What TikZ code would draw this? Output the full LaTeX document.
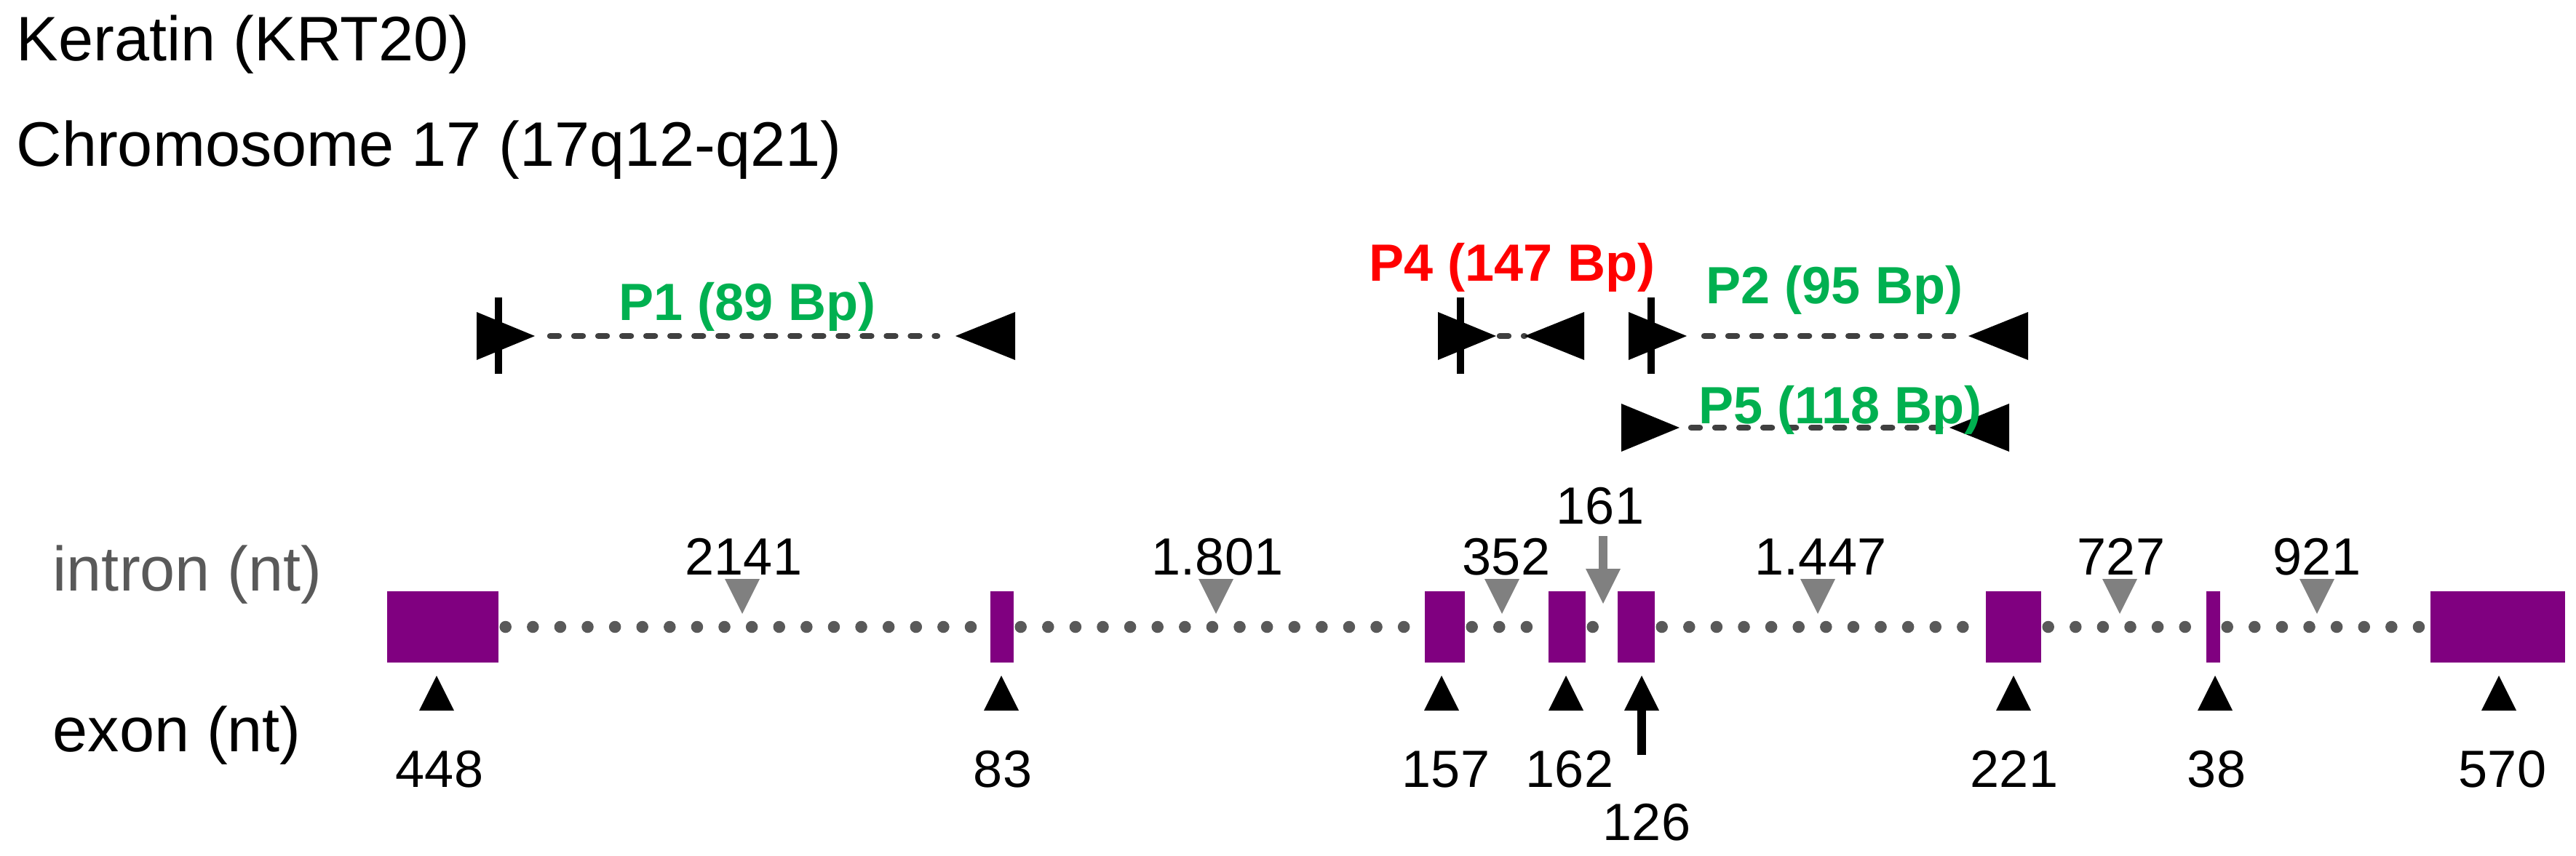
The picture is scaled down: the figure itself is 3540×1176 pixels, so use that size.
\documentclass[tikz,border=0pt]{standalone}
\usepackage{fontspec}
\setmainfont{Liberation Sans}
\definecolor{exonpurple}{HTML}{800080}
\definecolor{introngray}{HTML}{808080}
\definecolor{dotgray}{HTML}{595959}
\definecolor{labelgray}{HTML}{595959}
\definecolor{primergreen}{HTML}{00B050}
\definecolor{primerred}{HTML}{FF0000}
\definecolor{dashgray}{HTML}{404040}
\tikzset{
  exonbox/.style={fill=exonpurple, draw=none, inner sep=0pt, minimum height=9.8mm},
  introndots/.style={dotgray, line width=4.7pt, line cap=round, dash pattern=on 0pt off 10.7pt, shorten <=0.9mm, shorten >=0.9mm},
  primerdash/.style={dashgray, line width=2.4pt, line cap=round, dash pattern=on 3.4pt off 6pt},
  primerbar/.style={black, line width=2.9pt},
  titletext/.style={font=\fontsize{24.6}{28}\selectfont, inner sep=0pt, anchor=base west},
  numtext/.style={font=\fontsize{20.5}{24}\selectfont, inner sep=0pt, anchor=base},
  primertext/.style={font=\fontsize{20.5}{24}\selectfont\bfseries, inner sep=0pt, anchor=base},
  fwdprimer/.pic={\fill[black] (0,-33) -- (80,0) -- (0,33) -- cycle;},
  revprimer/.pic={\fill[black] (0,-33) -- (-82,0) -- (0,33) -- cycle;},
  introntri/.pic={\fill[introngray] (-24,0) -- (24,0) -- (0,48) -- cycle;},
  exontri/.pic={\fill[black] (-24,0) -- (24,0) -- (0,-48) -- cycle;},
}
\begin{document}
\begin{tikzpicture}[x=0.1mm, y=-0.1mm]
\useasboundingbox (0,0) rectangle (3540,1176);

% titles
\node[titletext] (title1) at (22,83) {Keratin (KRT20)};
\node[titletext] (title2) at (22,228) {Chromosome 17 (17q12-q21)};
\node[titletext, text=labelgray] (intronlbl) at (72,812) {intron (nt)};
\node[titletext] (exonlbl) at (72,1033) {exon (nt)};

% exon boxes
\node[exonbox, minimum width=15.3mm] (b1) at (608.5,862) {};
\node[exonbox, minimum width=3.2mm] (b2) at (1377,862) {};
\node[exonbox, minimum width=5.5mm] (b3) at (1985.5,862) {};
\node[exonbox, minimum width=5.1mm] (b4) at (2153.5,862) {};
\node[exonbox, minimum width=5.1mm] (b5) at (2248.5,862) {};
\node[exonbox, minimum width=7.6mm] (b6) at (2767,862) {};
\node[exonbox, minimum width=1.9mm] (b7) at (3041.5,862) {};
\node[exonbox, minimum width=18.5mm] (b8) at (3432.5,862) {};

% intron dotted lines
\draw[introndots] (b1.east) -- (b2.west);
\draw[introndots] (b2.east) -- (b3.west);
\draw[introndots] (b3.east) -- (b4.west);
\draw[introndots] (b4.east) -- (b5.west);
\draw[introndots] (b5.east) -- (b6.west);
\draw[introndots] (b6.east) -- (b7.west);
\draw[introndots] (b7.east) -- (b8.west);

% intron markers and labels
\pic at (1020,796) {introntri};
\node[numtext] (i1) at (1022,790) {2141};
\pic at (1671,796) {introntri};
\node[numtext] (i2) at (1673,790) {1.801};
\pic at (2064,796) {introntri};
\node[numtext] (i3) at (2070,790) {352};
\node[numtext] (i4) at (2199,720) {161};
\coordinate (a161top) at (2203,737);
\coordinate (a161end) at (2203,786);
\draw[introngray, line width=3.4pt] (a161top) -- (a161end);
\pic at (2203,782) {introntri};
\pic at (2498,796) {introntri};
\node[numtext] (i5) at (2502,790) {1.447};
\pic at (2913,796) {introntri};
\node[numtext] (i6) at (2915,790) {727};
\pic at (3184,796) {introntri};
\node[numtext] (i7) at (3184,790) {921};

% exon markers and labels
\pic at (600,977) {exontri};
\node[numtext] (e1) at (604,1082) {448};
\pic at (1376,977) {exontri};
\node[numtext] (e2) at (1378,1082) {83};
\pic at (1981,977) {exontri};
\node[numtext] (e3) at (1987,1082) {157};
\pic at (2152,977) {exontri};
\node[numtext] (e4) at (2157,1082) {162};
\coordinate (a126bot) at (2256,1038);
\coordinate (a126top) at (2256,972);
\draw[black, line width=3.4pt] (a126bot) -- (a126top);
\pic at (2256,977) {exontri};
\node[numtext] (e5) at (2263,1155) {126};
\pic at (2767,977) {exontri};
\node[numtext] (e6) at (2768,1082) {221};
\pic at (3044,977) {exontri};
\node[numtext] (e7) at (3046,1082) {38};
\pic at (3434,977) {exontri};
\node[numtext] (e8) at (3439,1082) {570};

% primers
% P1
\coordinate (p1s) at (756,462);
\coordinate (p1e) at (1288,462);
\draw[primerdash] (p1s) -- (p1e);
\pic at (655,462) {fwdprimer};
\pic at (1395,462) {revprimer};
\draw[primerbar] (685,409) -- (685,514);
\node[primertext, text=primergreen] (p1lbl) at (1027,440) {P1 (89 Bp)};
% P4
\coordinate (p4s) at (2061,462);
\coordinate (p4e) at (2095,462);
\draw[primerdash] (p4s) -- (p4e);
\pic at (1976,462) {fwdprimer};
\pic at (2177,462) {revprimer};
\draw[primerbar] (2007,409) -- (2007,514);
\node[primertext, text=primerred] (p4lbl) at (2078,386) {P4 (147 Bp)};
% P2
\coordinate (p2s) at (2342,462);
\coordinate (p2e) at (2694,462);
\draw[primerdash] (p2s) -- (p2e);
\pic at (2238,462) {fwdprimer};
\pic at (2787,462) {revprimer};
\draw[primerbar] (2269,409) -- (2269,514);
\node[primertext, text=primergreen] (p2lbl) at (2521,417) {P2 (95 Bp)};
% P5
\coordinate (p5s) at (2324,588);
\coordinate (p5e) at (2672,588);
\draw[primerdash] (p5s) -- (p5e);
\pic at (2228,588) {fwdprimer};
\pic at (2761,588) {revprimer};
\node[primertext, text=primergreen] (p5lbl) at (2529,582) {P5 (118 Bp)};
\end{tikzpicture}
\end{document}
